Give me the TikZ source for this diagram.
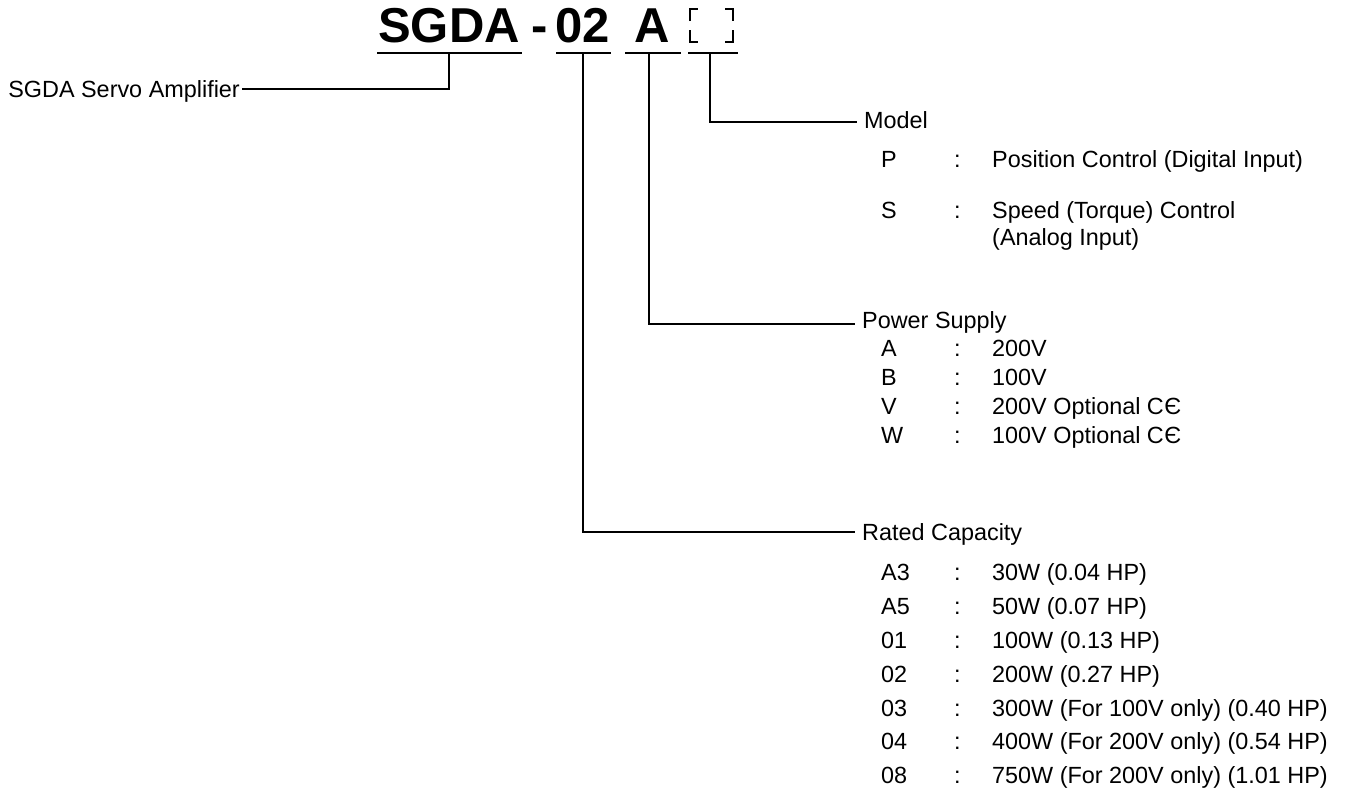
\documentclass[tikz,border=0pt]{standalone}
\usepackage{fontspec}
\setmainfont{Liberation Sans}
\newcommand{\cemark}{C\kern0.5pt Є}
\newcommand{\optrow}[4]{%
  \node[txt] (#1k) at (881,#2) {#3};
  \node[txt] (#1c) at (954,#2) {:};
  \node[txt] (#1v) at (992,#2) {#4};}
\begin{document}
\begin{tikzpicture}[x=1pt,y=-1pt,
  txt/.style={anchor=base west,inner sep=0pt,font=\fontsize{23.4}{27}\selectfont},
  ttl/.style={anchor=base west,inner sep=0pt,font=\fontsize{49}{55}\selectfont\bfseries},
  uline/.style={line width=1.8pt},
  lead/.style={line width=1.6pt},
  corner/.style={line width=1.5pt}]
\useasboundingbox (0,0) rectangle (1364,795);
% title
\node[ttl] (t1) at (378,42) {SGDA};
\node[ttl,anchor=base] (t2) at (540,42) {-};
\node[ttl] (t3) at (555,42) {02};
\node[ttl] (t4) at (634,42) {A};
% empty box (corner marks)
\draw[corner] (690,21) -- (690,9) -- (698,9);
\draw[corner] (725,9) -- (733,9) -- (733,21);
\draw[corner] (690,30) -- (690,42) -- (698,42);
\draw[corner] (725,42) -- (733,42) -- (733,30);
% underlines
\draw[uline] (377,53) -- (522,53);
\draw[uline] (556,53) -- (611,53);
\draw[uline] (625,53) -- (681,53);
\draw[uline] (688,53) -- (738,53);
% leader start/end points
\coordinate (s1) at (449,53);
\coordinate (e1) at (242,89);
\coordinate (s2) at (583,53);
\coordinate (e2) at (855,532);
\coordinate (s3) at (649,53);
\coordinate (e3) at (855,324);
\coordinate (s4) at (710,53);
\coordinate (e4) at (857,122);
\draw[lead] (s1) |- (e1);
\draw[lead] (s2) |- (e2);
\draw[lead] (s3) |- (e3);
\draw[lead] (s4) |- (e4);
% left label
\node[txt,anchor=base east] (lbl) at (240,97) {SGDA Servo Amplifier};
% Model
\node[txt] (hm) at (864,128) {Model};
\optrow{mp}{167}{P}{Position Control (Digital Input)}
\optrow{ms}{218}{S}{Speed (Torque) Control}
\node[txt] (ms2) at (992,245) {(Analog Input)};
% Power supply
\node[txt] (hp) at (862,328) {Power Supply};
\optrow{pa}{356}{A}{200V}
\optrow{pb}{385}{B}{100V}
\optrow{pv}{414}{V}{200V Optional \cemark}
\optrow{pw}{443}{W}{100V Optional \cemark}
% Rated capacity
\node[txt] (hr) at (862,540) {Rated Capacity};
\optrow{ra}{580}{A3}{30W (0.04 HP)}
\optrow{rb}{614}{A5}{50W (0.07 HP)}
\optrow{rc}{648}{01}{100W (0.13 HP)}
\optrow{rd}{682}{02}{200W (0.27 HP)}
\optrow{re}{716}{03}{300W (For 100V only) (0.40 HP)}
\optrow{rf}{749}{04}{400W (For 200V only) (0.54 HP)}
\optrow{rg}{783}{08}{750W (For 200V only) (1.01 HP)}
\end{tikzpicture}
\end{document}
